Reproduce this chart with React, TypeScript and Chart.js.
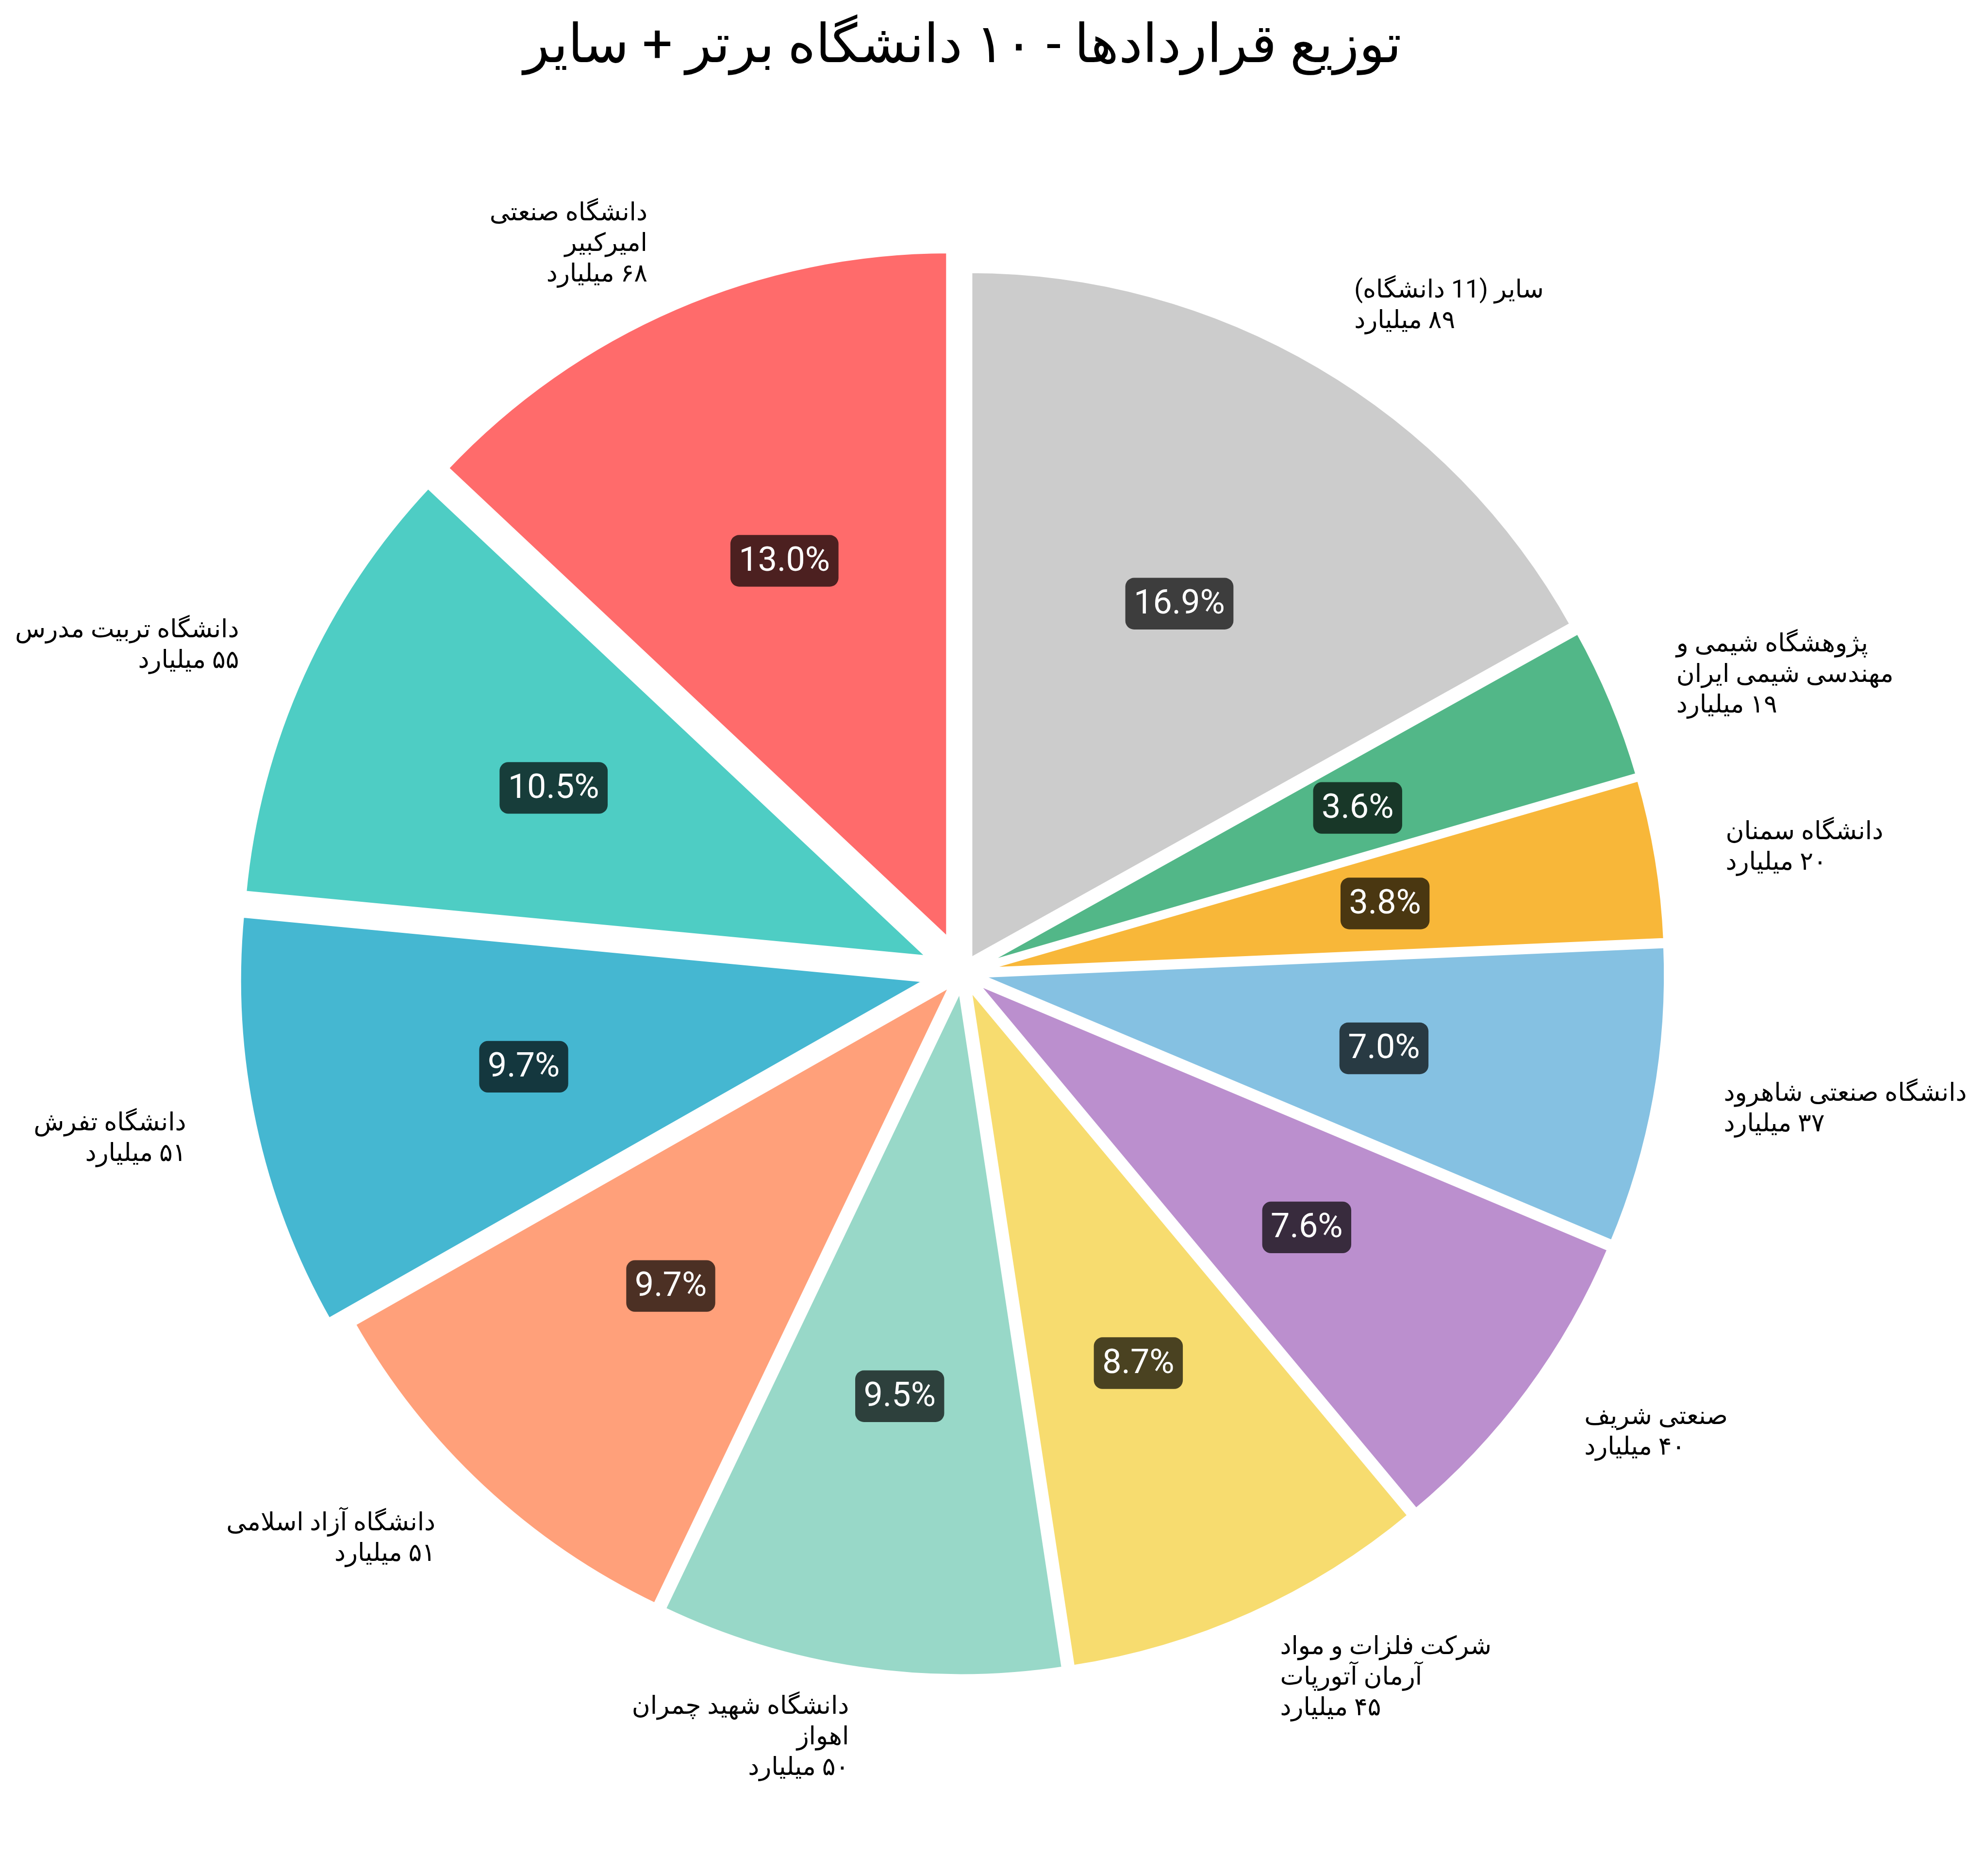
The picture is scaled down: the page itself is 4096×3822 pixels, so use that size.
import React, { useEffect, useRef } from 'react';
import { Chart, registerables } from 'chart.js';

Chart.register(...registerables);

// ---- data (reference order: counter-clockwise from 12 o'clock) ----
const categories: string[] = [
  'دانشگاه صنعتی\nامیرکبیر',
  'دانشگاه تربیت مدرس',
  'دانشگاه تفرش',
  'دانشگاه آزاد اسلامی',
  'دانشگاه شهید چمران\nاهواز',
  'شرکت فلزات و مواد\nآرمان آتورپات',
  'صنعتی شریف',
  'دانشگاه صنعتی شاهرود',
  'دانشگاه سمنان',
  'پژوهشگاه شیمی و\nمهندسی شیمی ایران',
  'سایر (11 دانشگاه)',
];
const values: number[] = [68.4, 55.3, 51.2, 51.0, 50.0, 45.6, 40.0, 37.0, 20.0, 19.0, 89.0];
const colors: string[] = [
  '#FF6B6B', '#4ECDC4', '#45B7D1', '#FFA07A', '#98D8C8', '#F7DC6F',
  '#BB8FCE', '#85C1E2', '#F8B739', '#52B788', '#CCCCCC',
];
const explode: number[] = [0.05, 0.05, 0.05, 0.02, 0.02, 0.02, 0.02, 0.02, 0.02, 0.02, 0.02];
const titleText = 'توزیع قراردادها - ۱۰ دانشگاه برتر + سایر';
const unitText = 'میلیارد';

// ---- layout (reference px * 0.876) ----
const S = 0.876;
const W = 4096;
const H = 3822;
const CX = 2264 * S;
const CY = 2288 * S;
const RADIUS = 1624 * S;
const FONT = 'Roboto, "DejaVu Sans", sans-serif';
const TITLE_SIZE = 110;
const TITLE_BASE = 128;
const LABEL_SIZE = 51.7;
const LABEL_PITCH = 63;
const LABEL_SHIFT = 14;
const PCT_SIZE = 70;

const faDigits = '۰۱۲۳۴۵۶۷۸۹';
function toFa(n: number): string {
  return String(Math.floor(n)).replace(/[0-9]/g, (d) => faDigits[Number(d)]);
}

// Chart.js draws clockwise; the reference is counter-clockwise -> reverse
const chartLabels = categories.slice().reverse();
const chartValues = values.slice().reverse();
const chartColors = colors.slice().reverse();
const chartExplode = explode.slice().reverse();

const total = values.reduce((a, b) => a + b, 0);

const decorPlugin = {
  id: 'pieDecor',
  beforeDatasetDraw(chart: any) {
    const ctx = chart.ctx as CanvasRenderingContext2D;
    const meta = chart.getDatasetMeta(0);
    meta.data.forEach((arc: any, i: number) => {
      const p = arc.getProps(['startAngle', 'endAngle', 'outerRadius'], true);
      const mid = (p.startAngle + p.endAngle) / 2;
      const d = chartExplode[i] * p.outerRadius;
      ctx.save();
      ctx.translate(Math.cos(mid) * d, Math.sin(mid) * d);
      arc.draw(ctx);
      ctx.restore();
    });
    return false;
  },
  afterDraw(chart: any) {
    const ctx = chart.ctx as CanvasRenderingContext2D;
    const meta = chart.getDatasetMeta(0);

    // title
    ctx.save();
    ctx.fillStyle = '#000';
    ctx.font = `${TITLE_SIZE}px ${FONT}`;
    ctx.direction = 'rtl';
    ctx.textAlign = 'center';
    ctx.textBaseline = 'alphabetic';
    ctx.fillText(titleText, CX, TITLE_BASE);
    ctx.restore();

    meta.data.forEach((arc: any, i: number) => {
      const p = arc.getProps(['x', 'y', 'startAngle', 'endAngle', 'outerRadius'], true);
      const mid = (p.startAngle + p.endAngle) / 2;
      const r = p.outerRadius;
      const d = chartExplode[i] * r;
      const c = Math.cos(mid);
      const s = Math.sin(mid);

      // outer label
      const lx = p.x + (d + 1.1 * r) * c;
      const ly = p.y + (d + 1.1 * r) * s;
      const lines = (chartLabels[i] + '\n' + toFa(chartValues[i]) + ' ' + unitText).split('\n');
      ctx.save();
      ctx.fillStyle = '#000';
      ctx.font = `${LABEL_SIZE}px ${FONT}`;
      ctx.direction = 'rtl';
      ctx.textAlign = c > 0 ? 'left' : 'right';
      ctx.textBaseline = 'alphabetic';
      const n = lines.length;
      lines.forEach((ln, k) => {
        const by = ly + (k - (n - 1) / 2) * LABEL_PITCH + LABEL_SHIFT;
        ctx.fillText(ln, lx, by);
      });
      ctx.restore();

      // percentage box
      const px = p.x + (d + 0.6 * r) * c;
      const py = p.y + (d + 0.6 * r) * s;
      const txt = ((chartValues[i] / total) * 100).toFixed(1) + '%';
      ctx.save();
      ctx.font = `${PCT_SIZE}px ${FONT}`;
      ctx.direction = 'ltr';
      const tw = ctx.measureText(txt).width;
      const padX = 0.25 * PCT_SIZE;
      const bw = tw + 2 * padX;
      const bh = 1.52 * PCT_SIZE;
      ctx.fillStyle = 'rgba(0,0,0,0.7)';
      ctx.beginPath();
      (ctx as any).roundRect(px - bw / 2, py - bh / 2, bw, bh, 18);
      ctx.fill();
      ctx.fillStyle = '#fff';
      ctx.textAlign = 'center';
      ctx.textBaseline = 'alphabetic';
      ctx.fillText(txt, px, py + 0.29 * PCT_SIZE);
      ctx.restore();
    });
  },
};

export default function App() {
  const ref = useRef<HTMLCanvasElement | null>(null);

  useEffect(() => {
    document.body.style.margin = '0';
    const canvas = ref.current;
    if (!canvas) return;
    const chart = new Chart(canvas, {
      type: 'pie',
      data: {
        labels: chartLabels,
        datasets: [
          {
            data: chartValues,
            backgroundColor: chartColors,
            borderColor: '#ffffff',
            borderWidth: 11.4,
            borderJoinStyle: 'miter',
            hoverOffset: 0,
          } as any,
        ],
      },
      options: {
        responsive: false,
        maintainAspectRatio: false,
        devicePixelRatio: 1,
        animation: false,
        events: [],
        radius: RADIUS,
        rotation: 0,
        layout: {
          padding: {
            left: 0,
            right: W - 2 * CX,
            top: 2 * CY - H,
            bottom: 0,
          },
        },
        plugins: {
          legend: { display: false },
          tooltip: { enabled: false },
          title: { display: false },
        },
      } as any,
      plugins: [decorPlugin],
    });
    return () => chart.destroy();
  }, []);

  return (
    <div style={{ position: 'absolute', left: 0, top: 0, width: W, height: H, background: '#fff' }}>
      <canvas ref={ref} width={W} height={H} style={{ display: 'block', width: W, height: H }} />
    </div>
  );
}
